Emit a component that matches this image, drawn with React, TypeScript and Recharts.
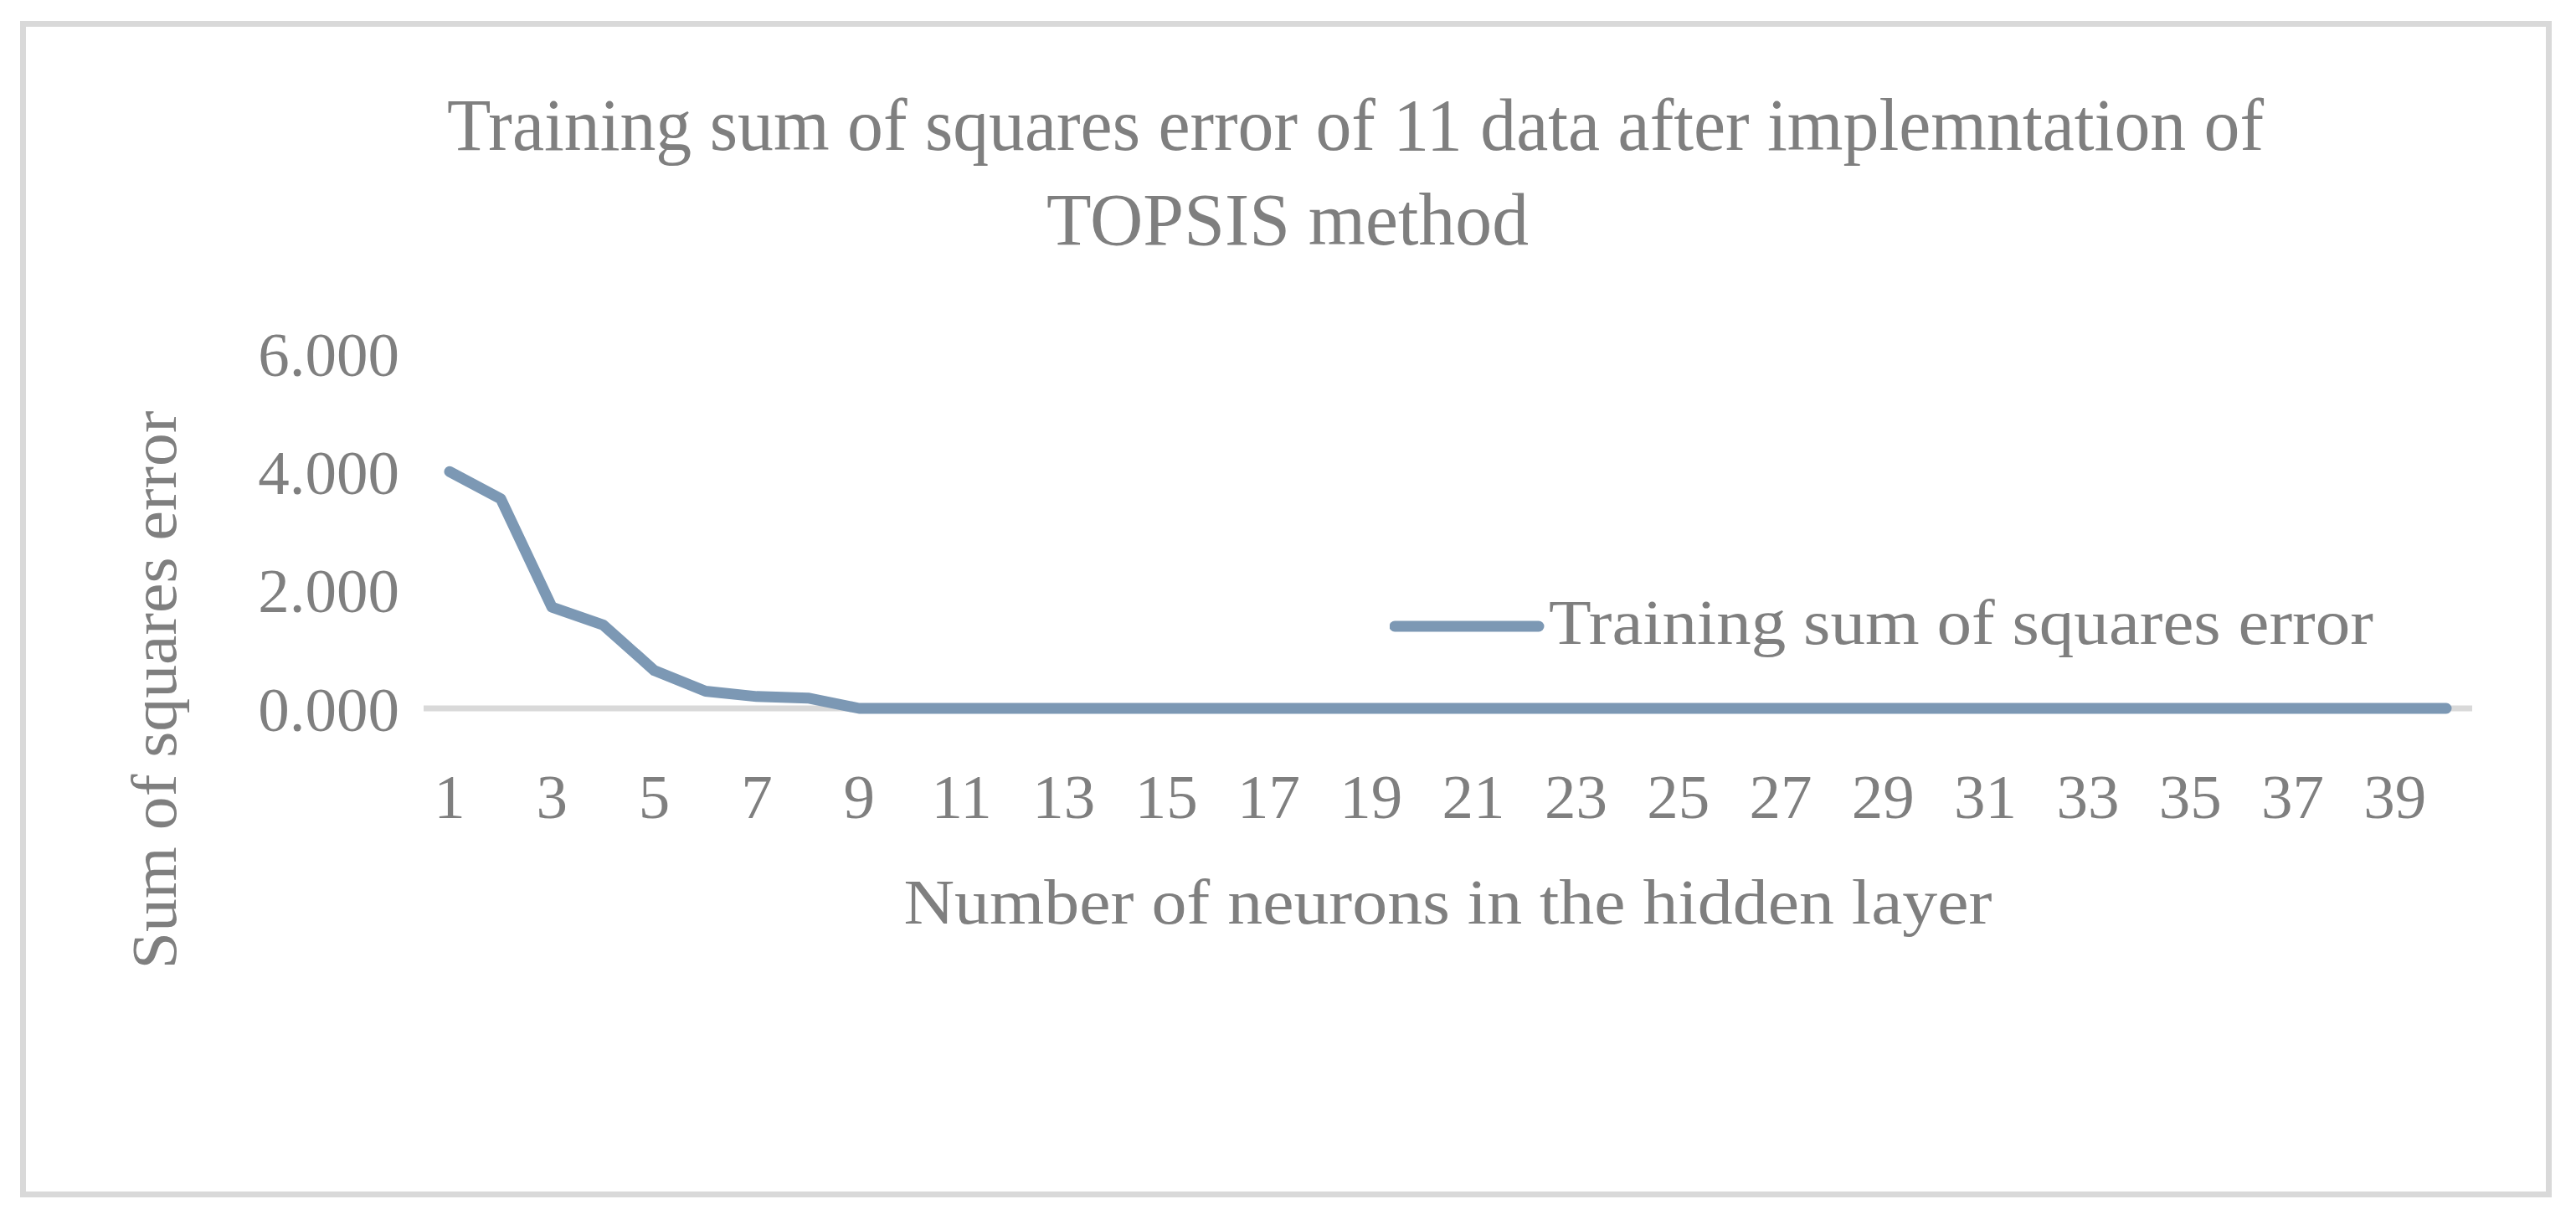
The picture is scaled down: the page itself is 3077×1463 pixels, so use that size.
import { LineChart, Line, XAxis, YAxis, Legend, CartesianGrid } from 'recharts'

const neurons = [
  '1', '2', '3', '4', '5', '6', '7', '8', '9', '10',
  '11', '12', '13', '14', '15', '16', '17', '18', '19', '20',
  '21', '22', '23', '24', '25', '26', '27', '28', '29', '30',
  '31', '32', '33', '34', '35', '36', '37', '38', '39', '40',
]

const trainingSse = [
  4.0, 3.54, 1.71, 1.41, 0.64, 0.29, 0.2, 0.175, 0, 0,
  0, 0, 0, 0, 0, 0, 0, 0, 0, 0,
  0, 0, 0, 0, 0, 0, 0, 0, 0, 0,
  0, 0, 0, 0, 0, 0, 0, 0, 0, 0,
]

const yTicks = [0, 2, 4, 6]

const titleLines = ['Training sum of squares error of 11 data after implemntation of', 'TOPSIS method']
const seriesName = 'Training sum of squares error'
const xTitle = 'Number of neurons in the hidden layer'
const yTitle = 'Sum of squares  error'

const data = neurons.map((n, i) => ({ n, sse: trainingSse[i] }))

const FONT = "'Palatino Linotype', 'Book Antiqua', Palatino, 'Liberation Serif', serif"
const TEXT = '#7f7f7f'
const LINE = '#7c98b4'
const AXIS = '#d9d9d9'

const W = 3077
const H = 1463

function LegendContent() {
  return (
    <svg width={1300} height={110} style={{ display: 'block' }}>
      <line x1={6} y1={58} x2={178} y2={58} stroke={LINE} strokeWidth={13} strokeLinecap="round" />
      <text x={190} y={79} fill={TEXT} fontSize={77} fontFamily={FONT} textLength={985} lengthAdjust="spacingAndGlyphs">
        {seriesName}
      </text>
    </svg>
  )
}

// only the zero line of the value axis is drawn, below the series
const axisLineOnly = ({ offset }: any) => [offset.top + offset.height]

export default function App() {
  return (
    <div style={{ position: 'absolute', left: 0, top: 0, width: W, height: H, background: '#fff' }}>
      <svg width={W} height={H} style={{ position: 'absolute', left: 0, top: 0 }}>
        <rect x={27.5} y={28.5} width={3017} height={1398} fill="#fff" stroke={AXIS} strokeWidth={7} />
        <text x={1619} y={179} textAnchor="middle" fill={TEXT} fontSize={88} fontFamily={FONT}
          textLength={2170} lengthAdjust="spacingAndGlyphs">
          {titleLines[0]}
        </text>
        <text x={1538} y={292} textAnchor="middle" fill={TEXT} fontSize={88} fontFamily={FONT}
          textLength={576} lengthAdjust="spacingAndGlyphs">
          {titleLines[1]}
        </text>
      </svg>
      <div style={{ position: 'absolute', left: 0, top: 0 }}>
        <LineChart width={W} height={H} data={data} margin={{ top: 422, right: 124, bottom: 317, left: 0 }}>
          <CartesianGrid
            vertical={false}
            horizontalCoordinatesGenerator={axisLineOnly}
            stroke={AXIS}
            strokeWidth={7}
          />
          <XAxis
            dataKey="n"
            interval={1}
            padding={{ left: 31, right: 31 }}
            axisLine={false}
            tickLine={false}
            tickSize={0}
            tickMargin={78}
            height={300}
            tick={{ fill: TEXT, fontSize: 75, fontFamily: FONT }}
            label={({ viewBox }: any) => (
              <text x={viewBox.x + viewBox.width / 2} y={1103} textAnchor="middle" fill={TEXT} fontSize={77}
                fontFamily={FONT} textLength={1300} lengthAdjust="spacingAndGlyphs">
                {xTitle}
              </text>
            )}
          />
          <YAxis
            width={506}
            domain={[0, 6]}
            ticks={yTicks}
            tickFormatter={(v: number) => v.toFixed(3)}
            axisLine={false}
            tickLine={false}
            tickSize={0}
            tickMargin={29}
            tick={{ fill: TEXT, fontSize: 75, fontFamily: FONT }}
            label={() => (
              <text x={210} y={824} transform="rotate(-90 210 824)" textAnchor="middle" fill={TEXT} fontSize={77}
                fontFamily={FONT} textLength={667} lengthAdjust="spacingAndGlyphs">
                {yTitle}
              </text>
            )}
          />
          <Legend
            layout="horizontal"
            verticalAlign="middle"
            align="center"
            content={() => <LegendContent />}
            wrapperStyle={{ position: 'absolute', left: 1660, top: 690, width: 1300, height: 110 }}
          />
          <Line
            type="linear"
            dataKey="sse"
            name={seriesName}
            stroke={LINE}
            strokeWidth={13}
            strokeLinecap="round"
            strokeLinejoin="round"
            dot={false}
            activeDot={false}
            isAnimationActive={false}
          />
        </LineChart>
      </div>
    </div>
  )
}
